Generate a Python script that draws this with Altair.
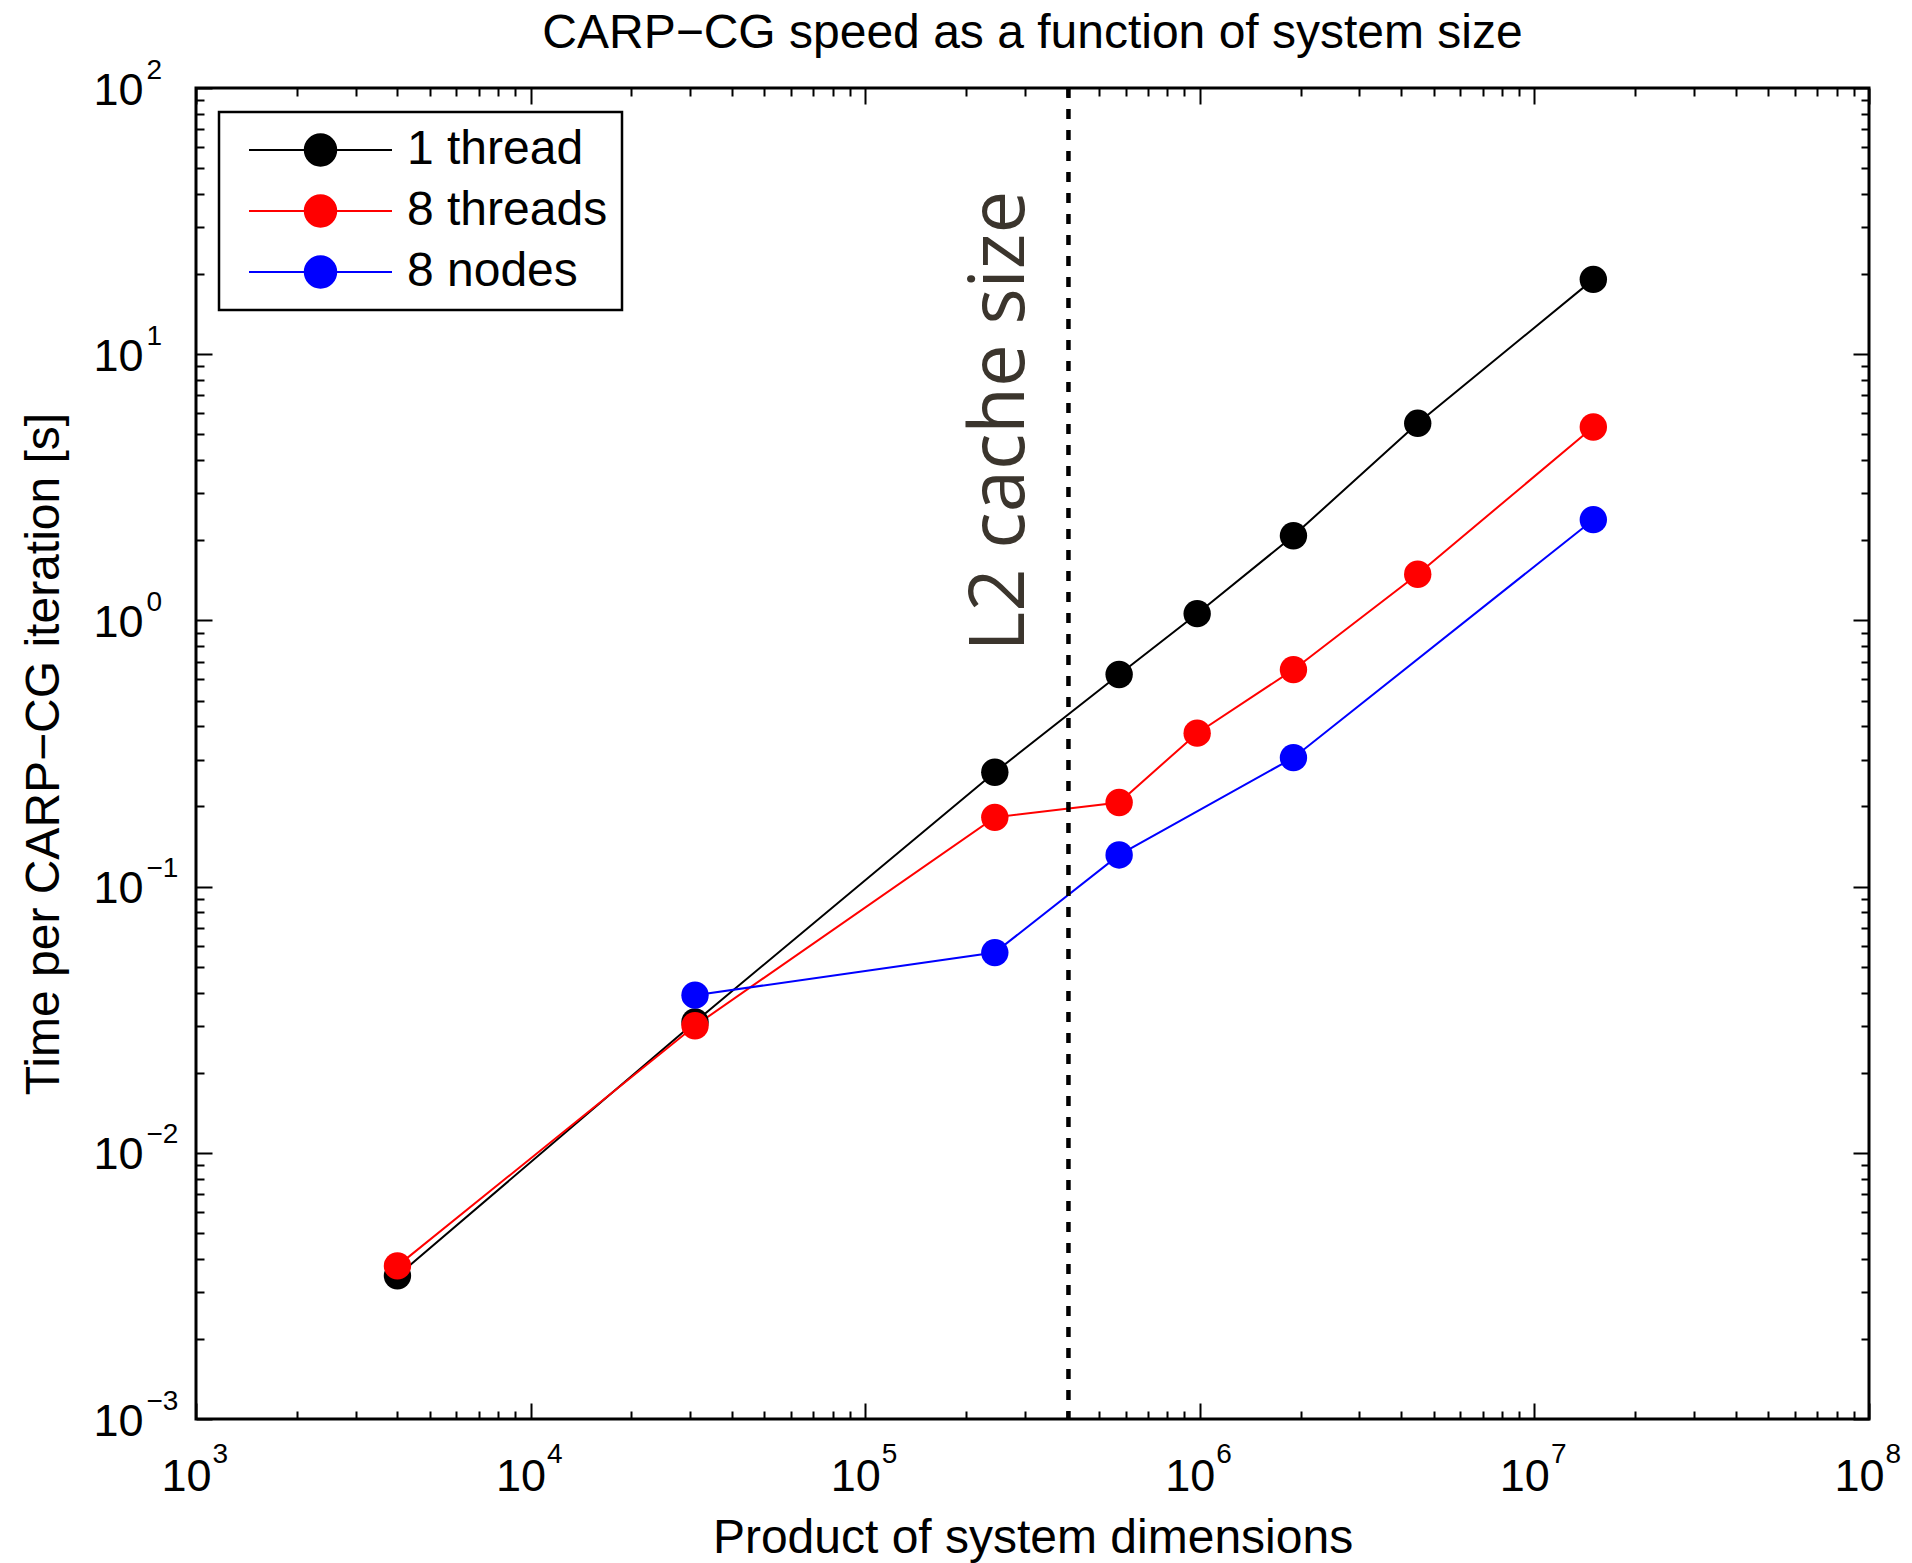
import altair as alt
import pandas as pd

# ---------------- data ----------------
series_names = ["1 thread", "8 threads", "8 nodes"]
series_colors = ["#000000", "#ff0000", "#0000ff"]

sizes_threads = [4000, 31000, 244000, 574000, 982000, 1905000, 4480000, 15000000]
time_1thread = [0.00345, 0.031, 0.269, 0.626, 1.06, 2.08, 5.5, 19.1]
time_8threads = [0.00376, 0.030, 0.182, 0.207, 0.377, 0.653, 1.49, 5.33]
sizes_nodes = [31000, 244000, 574000, 1905000, 15000000]
time_8nodes = [0.0391, 0.0565, 0.1315, 0.305, 2.39]

l2_cache_size = [405000]
annotation_text = ["L2 cache size"]
annotation_x = [298000]
annotation_y = [5.6]

x_ticks = [m * 10.0 ** e for e in range(3, 8) for m in range(1, 10)] + [1e8]
y_ticks = [m * 10.0 ** e for e in range(-3, 2) for m in range(1, 10)] + [100.0]

title_text = "CARP\u2212CG speed as a function of system size"
x_title = "Product of system dimensions"
y_title = "Time per CARP\u2212CG iteration [s]"

# ---------------- tables ----------------
rows = []
for s, xs, ys in [(series_names[0], sizes_threads, time_1thread),
                  (series_names[1], sizes_threads, time_8threads),
                  (series_names[2], sizes_nodes, time_8nodes)]:
    for a, b in zip(xs, ys):
        rows.append({"series": s, "size": a, "time": b})
df = pd.DataFrame(rows)
df_rule = pd.DataFrame({"size": l2_cache_size})
df_text = pd.DataFrame({"size": annotation_x, "time": annotation_y, "label": annotation_text})

W, H = 1673, 1331
FONT = "Liberation Sans"

xscale = alt.Scale(type="log", domain=[1e3, 1e8], nice=False)
yscale = alt.Scale(type="log", domain=[1e-3, 1e2], nice=False)

IS_MAJOR = "abs(log(datum.value)/LN10 - round(log(datum.value)/LN10)) < 1e-6"
BASE_LABEL = f"({IS_MAJOR}) ? '10' : ''"
EXP_LABEL = f"({IS_MAJOR}) ? replace(format(round(log(datum.value)/LN10), 'd'), '-', '\u2212') : ''"


def grid_dash(length):
    return {"condition": {"test": IS_MAJOR, "value": [16, length - 32]},
            "value": [8, length - 16]}


x_main_axis = alt.Axis(
    orient="bottom", values=x_ticks, labelExpr=BASE_LABEL,
    title=x_title, titleFont=FONT, titleFontSize=48, titleFontWeight="normal",
    titleColor="black", titleY=133, titleBaseline="alphabetic",
    labelFont=FONT, labelFontSize=45, labelColor="black", labelAlign="right",
    labelBaseline="top", labelOffset=15, labelPadding=35, labelOverlap=False,
    labelFlush=False, ticks=False, tickSize=0, domain=False,
    grid=True, gridColor="black", gridWidth=2, gridOpacity=1, gridDash=grid_dash(H),
)
y_main_axis = alt.Axis(
    orient="left", values=y_ticks, labelExpr=BASE_LABEL,
    title=y_title, titleFont=FONT, titleFontSize=48, titleFontWeight="normal",
    titleColor="black", titleX=-138, titleY=H / 2, titleAngle=270,
    titleBaseline="alphabetic", titleAlign="center",
    labelFont=FONT, labelFontSize=45, labelColor="black", labelAlign="right",
    labelBaseline="middle", labelOffset=2, labelPadding=53, labelOverlap=False,
    labelFlush=False, ticks=False, tickSize=0, domain=False,
    grid=True, gridColor="black", gridWidth=2, gridOpacity=1, gridDash=grid_dash(W),
)
x_exp_axis = alt.Axis(
    orient="bottom", values=x_ticks, labelExpr=EXP_LABEL, title=None,
    labelFont=FONT, labelFontSize=28, labelColor="black", labelAlign="left",
    labelBaseline="top", labelOffset=16, labelPadding=21, labelOverlap=False,
    labelFlush=False, ticks=False, tickSize=0, domain=False, grid=False,
)
y_exp_axis = alt.Axis(
    orient="left", values=y_ticks, labelExpr=EXP_LABEL, title=None,
    labelFont=FONT, labelFontSize=28, labelColor="black", labelAlign="left",
    labelBaseline="middle", labelOffset=-18, labelPadding=50, labelOverlap=False,
    labelFlush=False, ticks=False, tickSize=0, domain=False, grid=False,
)

SYMBOL = "M-1,0L1,0M0.22,0A0.22,0.22,0,1,1,-0.22,0A0.22,0.22,0,1,1,0.22,0Z"
legend = alt.Legend(
    title=None, orient="none", legendX=23, legendY=24,
    symbolType=SYMBOL, symbolSize=20449, symbolStrokeWidth=2,
    labelFont=FONT, labelFontSize=48, labelColor="black", labelLimit=0,
    labelOffset=14, symbolOffset=15, padding=14, rowPadding=13, clipHeight=48,
    fillColor="white", strokeColor="black",
)
color_scale = alt.Scale(domain=series_names, range=series_colors)

lines = alt.Chart(df).mark_line(strokeWidth=2).encode(
    x=alt.X("size:Q", scale=xscale, axis=x_main_axis),
    y=alt.Y("time:Q", scale=yscale, axis=y_main_axis),
    stroke=alt.Stroke("series:N", scale=color_scale, legend=legend, sort=series_names),
)
points = alt.Chart(df).mark_circle(size=750, opacity=1).encode(
    x=alt.X("size:Q", scale=xscale, axis=x_exp_axis),
    y=alt.Y("time:Q", scale=yscale, axis=y_exp_axis),
    fill=alt.Fill("series:N", scale=color_scale, legend=legend, sort=series_names),
)
rule = alt.Chart(df_rule).mark_rule(color="black", strokeWidth=4.5, strokeDash=[10, 11]).encode(
    x=alt.X("size:Q", scale=xscale, axis=None),
)
text = alt.Chart(df_text).mark_text(
    angle=270, align="center", baseline="alphabetic", font="Open Sans",
    fontSize=76, color="#3b352d",
).encode(
    x=alt.X("size:Q", scale=xscale, axis=None),
    y=alt.Y("time:Q", scale=yscale, axis=None),
    text="label:N",
)

chart = alt.layer(lines, points, rule, text).resolve_axis(
    x="independent", y="independent"
).properties(
    width=W, height=H,
    title=alt.TitleParams(text=title_text, font=FONT, fontSize=48, fontWeight="normal",
                          color="black", anchor="middle", frame="group", offset=-40,
                          baseline="alphabetic"),
    padding={"left": 196, "top": 88, "right": 43, "bottom": 144},
    autosize="none",
    background="white",
).configure_view(
    stroke="black", strokeWidth=3
).configure_legend(
    strokeWidth=2.5
)

chart.save("out.html", embed_options={"renderer": "svg", "actions": False})
